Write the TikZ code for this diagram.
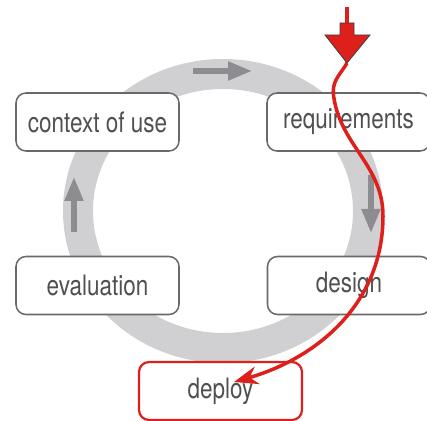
\documentclass[tikz,border=0pt]{standalone}
\usepackage{fontspec}
\setmainfont{TeX Gyre Heros}
\usetikzlibrary{arrows.meta}
\definecolor{ringgray}{RGB}{208,208,210}
\definecolor{arrowgray}{RGB}{140,140,145}
\definecolor{boxline}{RGB}{105,105,105}
\definecolor{labelgray}{RGB}{80,80,80}
\definecolor{flowred}{RGB}{222,32,28}
\newcommand{\narrow}[1]{\scalebox{0.8}[1]{#1}}
\tikzset{
  stage/.style={draw=boxline, line width=1.1pt, fill=white, rounded corners=0.25cm,
    minimum width=4.075cm, minimum height=1.45cm, inner sep=0pt,
    text=labelgray, font=\fontsize{20}{24}\selectfont},
  cyclearrow/.style={arrowgray, line width=0.13cm, -{Triangle[length=0.6cm,width=0.45cm]}},
}

\begin{document}
\begin{tikzpicture}
    \useasboundingbox (0,0) rectangle (10.675,10.5);
    % grey cycle
    \draw [ringgray, line width=0.75cm] (5.575,5.225) ellipse [x radius=3.625cm, y radius=3.425cm];
    \draw [cyclearrow] (4.825,8.725) -- (6.3,8.725);
    \draw [cyclearrow] (9.275,6.125) -- (9.275,4.675);
    \draw [cyclearrow] (1.85,4.7) -- (1.85,6.075);
    % stages
    \node[stage] (context) at (2.4375,7.45) {\narrow{context of use}};
    \node[stage] (requirements) at (8.7125,7.45) {\narrow{requirements}};
    \node[stage] (evaluation) at (2.4375,3.3625) {\narrow{evaluation}};
    \node[stage] (design) at (8.725,3.3625) {\narrow{design}};
    \node[stage, draw=flowred, line width=1.6pt] (deploy) at (5.5125,0.725) {\narrow{deploy}};
    % red entry arrow
    \fill[flowred] (8.625,10.325) rectangle (8.725,9.925);
    \draw[black!75, fill=flowred, line width=0.6pt] (8.5,9.925) -- (8.85,9.925) -- (8.85,9.625)
        -- (9.25,9.625) -- (8.675,8.925) -- (8.125,9.625) -- (8.5,9.625) -- cycle;
    \coordinate (entry) at (8.675,8.925);
    \coordinate (landing) at (5.85,0.95);
    \draw [flowred, line width=2.5pt, -{Stealth[length=0.6cm,width=0.45cm]}] (entry)
        to[out=-120,in=90] (8.33,8.2) to[out=-85,in=90] (9.575,5.1) to[out=-90,in=16] (landing);
\end{tikzpicture}
\end{document}
